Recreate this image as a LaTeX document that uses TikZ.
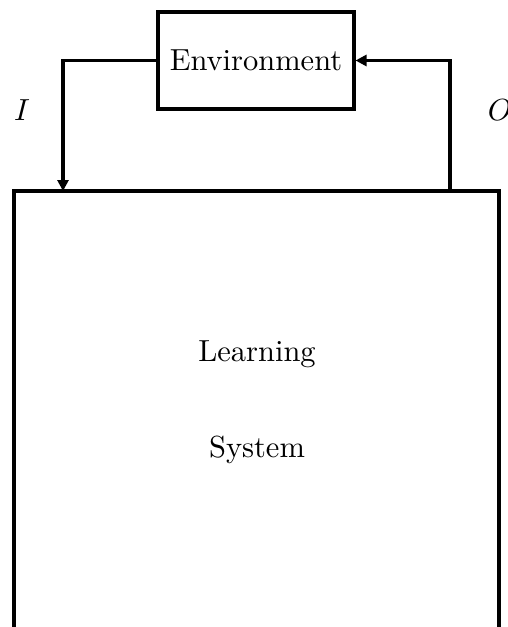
\documentclass[tikz,border=0pt]{standalone}
\usepackage{tikz}
\usetikzlibrary{arrows.meta}

\begin{document}
\begin{tikzpicture}[x=0.328pt, y=-0.328pt, line width=1pt]
\tikzstyle{block}=[rectangle, draw, line width=1pt, inner sep=0pt]
\tikzstyle{arr}=[-{Triangle[length=3.6pt, width=3.6pt]}]
\useasboundingbox (0,0) rectangle (507,627);
\clip (0,0) rectangle (507,627);

\node[block, minimum width=196*0.328pt, minimum height=97*0.328pt] (env) at (256,60.5) {Environment};
\node[block, minimum width=485*0.328pt, minimum height=560*0.328pt] (sys) at (256.5,471) {};
\node (learn) at (257,354) {Learning};
\node (system) at (257,450) {System};

\coordinate (ipt) at (63,191);
\coordinate (opt) at (450,191);
\node (I) at (22,110) {$I$};
\node (O) at (500,110) {$O$};

\draw[arr] (env.west) -| (ipt);
\draw[arr] (opt) |- (env.east);

\end{tikzpicture}
\end{document}
